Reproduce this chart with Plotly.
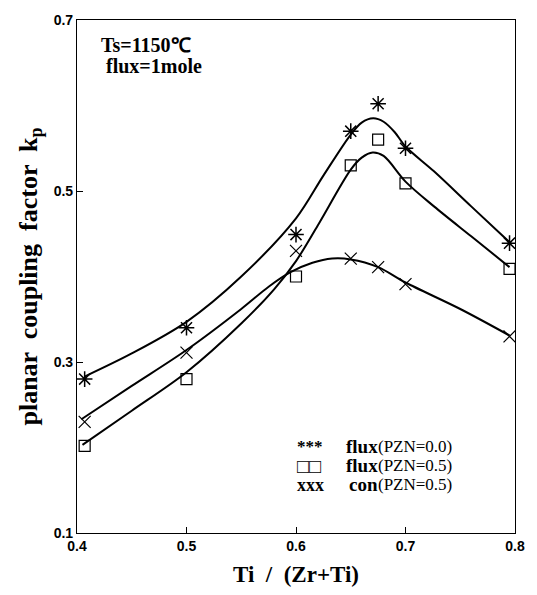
import plotly.graph_objects as go

# measured points
x_pts = [0.407, 0.5, 0.6, 0.65, 0.675, 0.7, 0.795]
flux00 = [0.280, 0.340, 0.449, 0.570, 0.602, 0.550, 0.439]
flux05 = [0.202, 0.280, 0.400, 0.530, 0.560, 0.509, 0.409]
con05 = [0.230, 0.311, 0.430, 0.421, 0.411, 0.391, 0.330]

# fitted curves
fit00_x = [0.407, 0.45, 0.5, 0.55, 0.6, 0.625, 0.65, 0.66, 0.6705, 0.68, 0.69, 0.7, 0.726, 0.76, 0.795]
fit00_y = [0.283, 0.310, 0.347, 0.400, 0.468, 0.518, 0.566, 0.580, 0.585, 0.581, 0.569, 0.552, 0.523, 0.482, 0.440]
fit05_x = [0.405, 0.45, 0.5, 0.55, 0.58, 0.60, 0.62, 0.65, 0.66, 0.67, 0.68, 0.7, 0.726, 0.76, 0.795]
fit05_y = [0.203, 0.243, 0.288, 0.345, 0.385, 0.418, 0.460, 0.525, 0.539, 0.545, 0.541, 0.511, 0.482, 0.447, 0.411]
fitc_x = [0.404, 0.45, 0.5, 0.55, 0.575, 0.595, 0.615, 0.633, 0.65, 0.675, 0.7, 0.75, 0.795]
fitc_y = [0.233, 0.272, 0.314, 0.362, 0.388, 0.405, 0.416, 0.421, 0.420, 0.411, 0.393, 0.362, 0.331]

x_ticks = [0.4, 0.5, 0.6, 0.7, 0.8]
y_ticks = [0.1, 0.3, 0.5, 0.7]

legend_syms = ["***", "\u25a1\u25a1", "xxx"]
legend_words = ["flux", "flux", "con"]
legend_parens = ["(PZN=0.0)", "(PZN=0.5)", "(PZN=0.5)"]

fig = go.Figure()
line = dict(color="black", width=2, shape="spline", smoothing=0.9)
for fx, fy in [(fit00_x, fit00_y), (fit05_x, fit05_y), (fitc_x, fitc_y)]:
    fig.add_trace(go.Scatter(x=fx, y=fy, mode="lines", line=line, showlegend=False, hoverinfo="skip"))

fig.add_trace(go.Scatter(x=x_pts, y=flux00, mode="markers",
                         marker=dict(symbol="asterisk-open", size=13, color="black",
                                     line=dict(color="black", width=1.5)),
                         showlegend=False))
fig.add_trace(go.Scatter(x=x_pts, y=flux05, mode="markers",
                         marker=dict(symbol="square-open", size=11, color="black",
                                     line=dict(color="black", width=1.2)),
                         showlegend=False))
fig.add_trace(go.Scatter(x=x_pts, y=con05, mode="markers",
                         marker=dict(symbol="x-thin-open", size=12, color="black",
                                     line=dict(color="black", width=1.2)),
                         showlegend=False))

serif = "Liberation Serif, Times New Roman, serif"
sans = "Liberation Sans"

fig.update_layout(
    width=537, height=595,
    margin=dict(l=77, r=14, t=13, b=62),
    plot_bgcolor="white", paper_bgcolor="white",
    xaxis=dict(range=[0.4, 0.8], tickvals=x_ticks, ticktext=["0.4", "0.5", "0.6", "0.7", "0.8"],
               ticks="inside", ticklen=6, tickcolor="black", showgrid=False, zeroline=False,
               showline=True, linecolor="black", linewidth=1.2, mirror=True,
               tickfont=dict(family=sans, size=14, color="black", weight="bold"),
               title=dict(text="Ti  /  (Zr+Ti)", font=dict(family=serif, size=23, color="black", weight="bold"),
                          standoff=12)),
    yaxis=dict(range=[0.1, 0.7], tickvals=y_ticks, ticktext=["0.1", "0.3", "0.5", "0.7"],
               ticks="inside", ticklen=6, tickcolor="black", showgrid=False, zeroline=False,
               showline=True, linecolor="black", linewidth=1.2, mirror=True,
               tickfont=dict(family=sans, size=14, color="black", weight="bold"),
               title=dict(text="planar  coupling  factor  k<sub>p</sub>",
                          font=dict(family=serif, size=26, color="black", weight="bold"), standoff=8)),
)

pw, ph = 537 - 77 - 14, 595 - 13 - 62
annots = [
    dict(x=99, y=38, text="Ts=1150\u2103", size=20),
    dict(x=104, y=60, text="flux=1mole", size=20),
]
for a in annots:
    fig.add_annotation(xref="paper", yref="paper",
                       x=(a["x"] - 77) / pw, y=1 - (a["y"] - 13) / ph,
                       text=a["text"], showarrow=False, xanchor="left", yanchor="middle",
                       font=dict(family=serif, size=a["size"], color="black", weight="bold"))

row_y = [445, 465, 484]
sym_sizes = [17, 20, 18]
for sym, word, paren, yy, ss in zip(legend_syms, legend_words, legend_parens, row_y, sym_sizes):
    ypos = 1 - (yy - 13) / ph
    fig.add_annotation(xref="paper", yref="paper", x=(299 - 77) / pw, y=ypos,
                       text=sym, showarrow=False, xanchor="left", yanchor="middle",
                       font=dict(family=serif, size=ss, color="black", weight="bold"))
    fig.add_annotation(xref="paper", yref="paper", x=(385 - 77) / pw, y=ypos,
                       text=word, showarrow=False, xanchor="right", yanchor="middle", borderpad=0,
                       font=dict(family=serif, size=19, color="black", weight="bold"))
    fig.add_annotation(xref="paper", yref="paper", x=(382 - 77) / pw, y=ypos,
                       text=paren, showarrow=False, xanchor="left", yanchor="middle", borderpad=0,
                       font=dict(family=serif, size=17, color="black", weight=400))

fig.write_html("out.html")
